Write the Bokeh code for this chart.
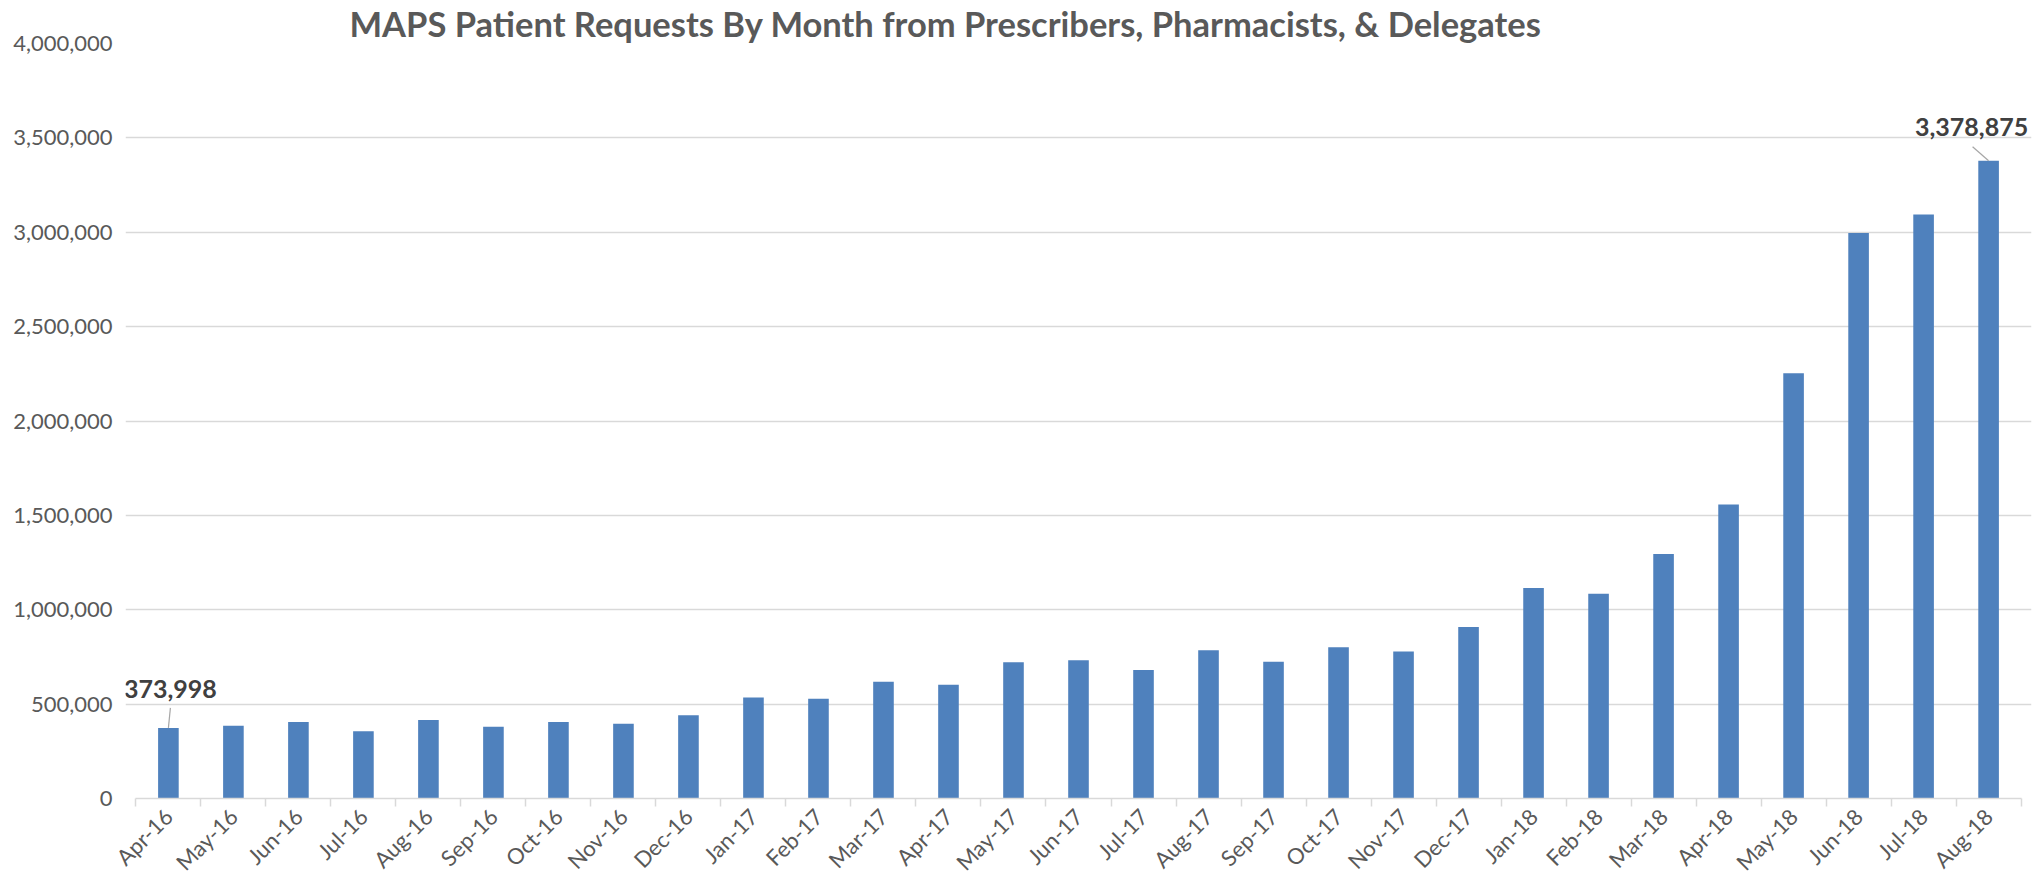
import math
from bokeh.plotting import figure
from bokeh.models import FixedTicker, NumeralTickFormatter, Label
from bokeh.embed import file_html
from bokeh.resources import INLINE

# ---------------- data ----------------
months = ["Apr-16", "May-16", "Jun-16", "Jul-16", "Aug-16", "Sep-16", "Oct-16", "Nov-16", "Dec-16",
          "Jan-17", "Feb-17", "Mar-17", "Apr-17", "May-17", "Jun-17", "Jul-17", "Aug-17", "Sep-17",
          "Oct-17", "Nov-17", "Dec-17",
          "Jan-18", "Feb-18", "Mar-18", "Apr-18", "May-18", "Jun-18", "Jul-18", "Aug-18"]
requests = [373998, 386000, 405000, 356000, 416000, 380000, 405000, 396000, 441000,
            535000, 528000, 619000, 603000, 722000, 732000, 681000, 785000, 725000,
            801000, 779000, 909000,
            1115000, 1085000, 1295000, 1558000, 2253000, 2996000, 3094000, 3378875]
y_ticks = [0, 500000, 1000000, 1500000, 2000000, 2500000, 3000000, 3500000, 4000000]
title_text = "MAPS Patient Requests By Month from Prescribers, Pharmacists, & Delegates"
annotated = [0, len(months) - 1]

# ---------------- styling ----------------
FONT = "Lato"
GRID = "#d9d9d9"
TXT = "#595959"
BAR = "#4f81bd"

n = len(months)
centers = [i + 0.5 for i in range(n)]
boundaries = list(range(n + 1))
pad = 0.16  # room so the data labels are not clipped by the frame

p = figure(frame_width=1906, frame_height=755,
           x_range=(-pad, n + pad), y_range=(0, y_ticks[-1]),
           output_backend="svg", toolbar_location=None,
           min_border_left=125, min_border_right=2,
           min_border_top=38, min_border_bottom=70)
p.outline_line_color = None
p.background_fill_color = "white"
p.border_fill_color = "white"

p.title.text = title_text
p.title.text_font = FONT
p.title.text_font_style = "bold"
p.title.text_font_size = "34.5px"
p.title.text_color = TXT
p.title.align = "left"
p.title.offset = 224
p.title.standoff = 0

p.vbar(x=centers, top=requests, width=0.317, fill_color=BAR, line_color=None)

# x axis
xa = p.xaxis[0]
xa.ticker = FixedTicker(ticks=centers, minor_ticks=boundaries)
xa.major_label_overrides = {c: m for c, m in zip(centers, months)}
xa.bounds = (0, n)
xa.major_tick_in = 0
xa.major_tick_out = 0
xa.minor_tick_in = 0
xa.minor_tick_out = 8
xa.minor_tick_line_color = GRID
xa.minor_tick_line_width = 1.5
xa.axis_line_color = GRID
xa.axis_line_width = 1.5
xa.major_label_orientation = math.pi / 4
xa.major_label_text_font = FONT
xa.major_label_text_font_size = "22px"
xa.major_label_text_color = TXT
xa.major_label_standoff = 6

# y axis
ya = p.yaxis[0]
ya.ticker = FixedTicker(ticks=y_ticks)
ya.formatter = NumeralTickFormatter(format="0,0")
ya.axis_line_color = None
ya.major_tick_line_color = None
ya.minor_tick_line_color = None
ya.major_label_standoff = 7
ya.major_label_text_font = FONT
ya.major_label_text_font_size = "22px"
ya.major_label_text_color = TXT

p.xgrid.grid_line_color = None
p.ygrid.grid_line_color = GRID
p.ygrid.grid_line_width = 1.5
p.ygrid.bounds = (0, n)

# data labels with leader lines (offsets in pixels converted to data units)
px_x = (n + 2 * pad) / 1906.0
px_y = y_ticks[-1] / 755.0
label_offsets = {0: (2, 39, 2, 20), n - 1: (-17, 34, -16, 14)}
for i in annotated:
    tx, ty, lx, ly = label_offsets[i]
    p.segment(x0=[centers[i]], y0=[requests[i]],
              x1=[centers[i] + lx * px_x], y1=[requests[i] + ly * px_y],
              line_color="#a6a6a6", line_width=1.2)
    p.add_layout(Label(x=centers[i], y=requests[i], x_offset=tx, y_offset=ty,
                       text=f"{requests[i]:,}", text_align="center",
                       text_baseline="alphabetic", text_font=FONT,
                       text_font_style="bold", text_font_size="25px",
                       text_color="#404040"))

open("out.html", "w").write(file_html(p, INLINE))
